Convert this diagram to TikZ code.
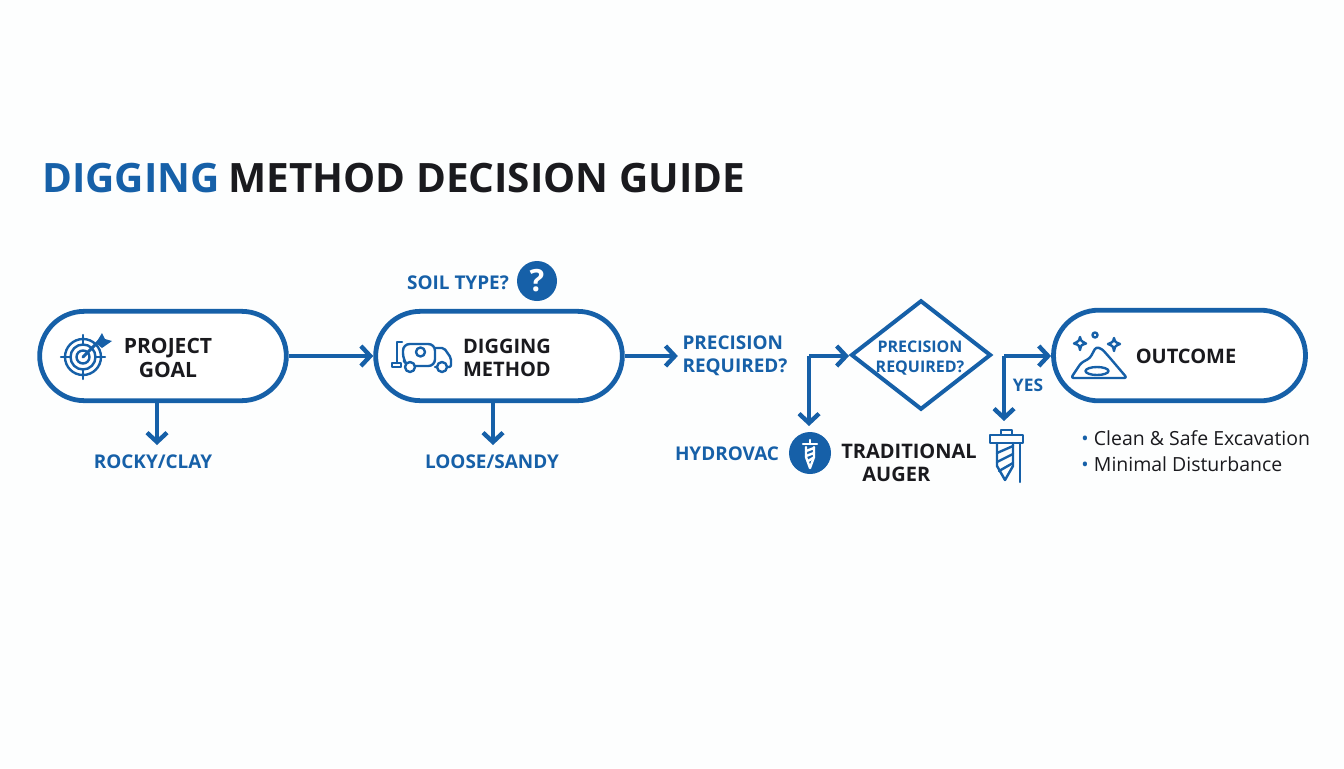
\documentclass[tikz,border=0pt]{standalone}
\usepackage{fontspec}
\setmainfont{Open Sans}
\usepackage{xcolor}
\usetikzlibrary{arrows.meta,shapes.geometric,shapes.misc}
\definecolor{guideblue}{HTML}{1660A8}
\definecolor{guideink}{HTML}{1A1A1E}
\definecolor{paper}{HTML}{FDFEFE}

\begin{document}
\begin{tikzpicture}[x=0.75pt,y=-0.75pt,
                    flowbox/.style={rounded rectangle,draw=guideblue,line width=3.6pt,fill=white,
                                    minimum width=185pt,minimum height=67pt,inner sep=0pt},
                    flowline/.style={draw=guideblue,line width=3.3pt,
                                     -{Straight Barb[length=7pt,width=15pt,line width=3.3pt]}},
                    decision/.style={diamond,draw=guideblue,line width=3pt,fill=white,aspect=1.29,
                                     minimum width=105pt,minimum height=82pt,inner sep=0pt},
                    bluelabel/.style={text=guideblue,font=\bfseries\fontsize{14.2}{17.5}\selectfont,align=left},
                    inklabel/.style={text=guideink,font=\bfseries\fontsize{15}{17.5}\selectfont,align=center},
                    icon/.style={draw=guideblue,line width=1.8pt,line join=round,line cap=round}]
  \useasboundingbox (0,0) rectangle (1344,768);
  \fill[paper] (0,0) rectangle (1344,768);

  \node[anchor=west,inner sep=0pt,font=\bfseries\fontsize{30.35}{36}\selectfont,text=guideink] (title) at (42,178)
    {\textcolor{guideblue}{DIGGING}\hspace{-1.5pt} METHOD DECISION GUIDE};

  \node[flowbox] (goal) at (163,356) {};
  \node[flowbox] (method) at (499,356) {};
  \node[flowbox,minimum width=189pt,minimum height=68pt] (outcome) at (1179.5,355.5) {};
  \node[decision] (check) at (921,355) {};

  \node[inklabel,font=\bfseries\fontsize{15.8}{17.5}\selectfont] (goaltext) at (168,358) {PROJECT\\GOAL};
  \node[inklabel,align=left] (methodtext) at (507,358) {DIGGING\\METHOD};
  \node[inklabel] (outcometext) at (1186,356) {OUTCOME};
  \node[bluelabel,align=center,font=\bfseries\fontsize{12}{15}\selectfont] (checktext) at (920,358) {PRECISION\\REQUIRED?};

  \node[bluelabel] (rocky) at (153,462) {ROCKY/CLAY};
  \node[bluelabel] (loose) at (492,462) {LOOSE/SANDY};
  \node[bluelabel] (soil) at (458,283) {SOIL TYPE?};
  \node[circle,fill=guideblue,minimum size=30pt,inner sep=0pt,text=white,font=\bfseries\fontsize{23}{23}\selectfont] (ask) at (537,281) {?};
  \node[bluelabel] (precision) at (735,356) {PRECISION\\REQUIRED?};
  \node[bluelabel] (hydrovac) at (727,454) {HYDROVAC};
  \node[circle,fill=guideblue,minimum size=31.5pt,inner sep=0pt] (badge) at (810,453) {};
  \node[inklabel] (auger) at (909,463) {TRADITIONAL\\AUGER\hspace*{19pt}};
  \node[bluelabel,font=\bfseries\fontsize{13}{15}\selectfont] (yes) at (1028,385) {YES};
  \node[anchor=west,inner sep=0pt,text=guideink,align=left,font=\fontsize{14.6}{19.5}\selectfont] (notes) at (1081,451)
    {\textcolor{guideblue}{\textbullet}\hspace{4pt}Clean \& Safe Excavation\\\textcolor{guideblue}{\textbullet}\hspace{4pt}Minimal Disturbance};

  \coordinate (leftturn) at (809,356);
  \coordinate (rightturn) at (1004,356);
  \coordinate (rockyend) at (157,445);
  \coordinate (looseend) at (493,445);
  \coordinate (badgeend) at (809,426);
  \coordinate (drillend) at (1004,421);

  \draw[flowline] (goal.east) -- (method.west);
  \draw[flowline] (method.east) -- (method.east -| precision.west);
  \draw[flowline] (goal.south -| rockyend) -- (rockyend);
  \draw[flowline] (method.south -| looseend) -- (looseend);
  \draw[flowline] (leftturn) -- (leftturn -| check.west);
  \draw[flowline] (leftturn) -- (badgeend);
  \draw[flowline] (rightturn) -- (rightturn -| outcome.west);
  \draw[flowline] (rightturn) -- (drillend);

  % target
  \begin{scope}[shift={(83,357)},icon]
    \draw (0,0) circle (18) (0,0) circle (12.5) (0,0) circle (6.5);
    \draw (-22,0) -- (-12,0) (12,0) -- (22,0) (0,-22) -- (0,-12) (0,12) -- (0,22);
    \draw[line width=2.2pt] (0,0) -- (17,-17);
    \fill[guideblue] (13,-14) -- (19,-24) -- (22,-18) -- (29,-16) -- (19,-9) -- cycle;
  \end{scope}

  % truck
  \begin{scope}[shift={(360,260)},icon]
    \draw[rounded corners=5] (43,84) -- (75,84) -- (75,106) -- (48,106) -- (43,100) -- cycle;
    \draw (60.5,92) circle (4.5);
    \draw[rounded corners=1.5] (75,88) -- (84,88) -- (91,98) -- (91,107) -- (75,107);
    \draw (42,82) -- (37,82) -- (37,103);
    \draw (32,107) rectangle (41,103);
    \draw[fill=white] (50,107) circle (5) (82,107) circle (5);
  \end{scope}

  % mound
  \begin{scope}[shift={(980,290)},icon]
    \draw[rounded corners=2] (91,88) -- (101,73) -- (110,68) -- (116,57) -- (122,59) -- (130,68) -- (147,88) -- cycle;
    \draw (117,81) ellipse (11.5 and 4);
    \draw (115,45) circle (2.5);
    \draw (100,47) .. controls (101,51) .. (106,53.5) .. controls (101,55) .. (100,60)
      .. controls (99,55) .. (94,53.5) .. controls (99,51) .. cycle;
    \draw (134,48) .. controls (135,52) .. (140,54) .. controls (135,56) .. (134,61)
      .. controls (133,56) .. (128,54) .. controls (133,52) .. cycle;
  \end{scope}

  % auger
  \begin{scope}[shift={(980,290)},icon]
    \draw (21,145) rectangle (32,140);
    \draw (10,145) rectangle (43,153);
    \draw (17,153) -- (17,176) -- (25,190) -- (33,176) -- (33,153);
    \draw (17,163) -- (33,156) (17,172) -- (33,164) (19,181) -- (33,173);
    \draw (40,153) -- (40,192);
  \end{scope}

  % drill in the badge
  \begin{scope}[shift={(810,453)},icon,draw=white]
    \draw (-7,-9) -- (7,-9) (0,-13) -- (0,-9);
    \draw (-4,-6) -- (-4,4) -- (0,15) -- (4,4) -- (4,-6);
    \draw (-4,-2) -- (4,-5) (-4,3) -- (4,0) (-2,8) -- (3,5);
  \end{scope}
\end{tikzpicture}
\end{document}
